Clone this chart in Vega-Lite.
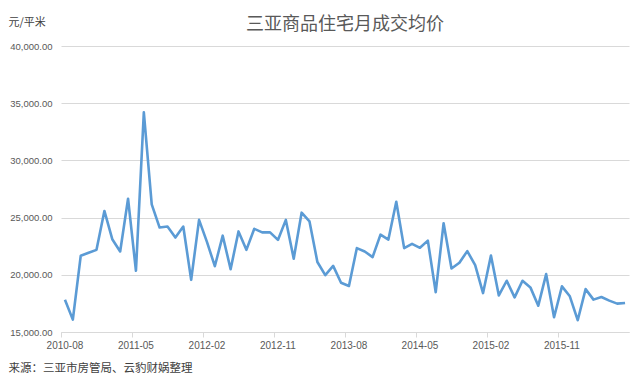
{
  "$schema": "https://vega.github.io/schema/vega-lite/v6.json",
  "autosize": "none",
  "width": 568,
  "height": 286,
  "padding": {"left": 61, "top": 46, "right": 11, "bottom": 53},
  "background": "white",
  "config": {
    "view": {"stroke": null},
    "font": "Noto Sans CJK SC"
  },
  "title": {
    "text": "三亚商品住宅月成交均价",
    "anchor": "middle",
    "fontSize": 18,
    "fontWeight": "normal",
    "color": "#595959",
    "font": "Noto Sans CJK SC",
    "baseline": "middle",
    "offset": -27
  },
  "data": {
    "values": [
      {"month": "2010-08", "price": 17820},
      {"month": "2010-09", "price": 16080},
      {"month": "2010-10", "price": 21660},
      {"month": "2010-11", "price": 21920},
      {"month": "2010-12", "price": 22180},
      {"month": "2011-01", "price": 25580},
      {"month": "2011-02", "price": 23110},
      {"month": "2011-03", "price": 22040},
      {"month": "2011-04", "price": 26650},
      {"month": "2011-05", "price": 20350},
      {"month": "2011-06", "price": 34200},
      {"month": "2011-07", "price": 26160},
      {"month": "2011-08", "price": 24130},
      {"month": "2011-09", "price": 24220},
      {"month": "2011-10", "price": 23260},
      {"month": "2011-11", "price": 24220},
      {"month": "2011-12", "price": 19560},
      {"month": "2012-01", "price": 24800},
      {"month": "2012-02", "price": 22880},
      {"month": "2012-03", "price": 20750},
      {"month": "2012-04", "price": 23420},
      {"month": "2012-05", "price": 20490},
      {"month": "2012-06", "price": 23790},
      {"month": "2012-07", "price": 22180},
      {"month": "2012-08", "price": 24020},
      {"month": "2012-09", "price": 23710},
      {"month": "2012-10", "price": 23710},
      {"month": "2012-11", "price": 23050},
      {"month": "2012-12", "price": 24800},
      {"month": "2013-01", "price": 21410},
      {"month": "2013-02", "price": 25430},
      {"month": "2013-03", "price": 24660},
      {"month": "2013-04", "price": 21120},
      {"month": "2013-05", "price": 19970},
      {"month": "2013-06", "price": 20780},
      {"month": "2013-07", "price": 19310},
      {"month": "2013-08", "price": 19020},
      {"month": "2013-09", "price": 22330},
      {"month": "2013-10", "price": 22040},
      {"month": "2013-11", "price": 21550},
      {"month": "2013-12", "price": 23510},
      {"month": "2014-01", "price": 23080},
      {"month": "2014-02", "price": 26380},
      {"month": "2014-03", "price": 22330},
      {"month": "2014-04", "price": 22700},
      {"month": "2014-05", "price": 22360},
      {"month": "2014-06", "price": 22990},
      {"month": "2014-07", "price": 18480},
      {"month": "2014-08", "price": 24510},
      {"month": "2014-09", "price": 20550},
      {"month": "2014-10", "price": 21060},
      {"month": "2014-11", "price": 22070},
      {"month": "2014-12", "price": 20850},
      {"month": "2015-01", "price": 18400},
      {"month": "2015-02", "price": 21680},
      {"month": "2015-03", "price": 18200},
      {"month": "2015-04", "price": 19480},
      {"month": "2015-05", "price": 18030},
      {"month": "2015-06", "price": 19480},
      {"month": "2015-07", "price": 18900},
      {"month": "2015-08", "price": 17300},
      {"month": "2015-09", "price": 20060},
      {"month": "2015-10", "price": 16290},
      {"month": "2015-11", "price": 18990},
      {"month": "2015-12", "price": 18120},
      {"month": "2016-01", "price": 16030},
      {"month": "2016-02", "price": 18750},
      {"month": "2016-03", "price": 17830},
      {"month": "2016-04", "price": 18060},
      {"month": "2016-05", "price": 17740},
      {"month": "2016-06", "price": 17480},
      {"month": "2016-07", "price": 17540}
    ]
  },
  "mark": {"type": "line", "color": "#5B9BD5", "strokeWidth": 2.6, "strokeJoin": "round"},
  "encoding": {
    "x": {
      "field": "month",
      "type": "ordinal",
      "sort": null,
      "bandPosition": 0.5,
      "scale": {"type": "band", "paddingInner": 0, "paddingOuter": 0},
      "axis": {
        "values": ["2010-08", "2011-05", "2012-02", "2012-11", "2013-08", "2014-05", "2015-02", "2015-11"],
        "bandPosition": 0,
        "labelAngle": 0,
        "labelAlign": "center",
        "labelFont": "Liberation Sans",
        "labelFontSize": 10,
        "labelColor": "#595959",
        "labelPadding": 3,
        "domainColor": "#d9d9d9",
        "domainWidth": 1,
        "tickColor": "#d9d9d9",
        "tickSize": 5,
        "grid": false,
        "title": "来源：三亚市房管局、云豹财娲整理",
        "titleFont": "Noto Sans CJK SC",
        "titleFontSize": 11.5,
        "titleFontWeight": "normal",
        "titleColor": "#404040",
        "titleAnchor": "start",
        "titleAlign": "left",
        "titleBaseline": "middle",
        "titleX": -53,
        "titleY": 36
      }
    },
    "y": {
      "field": "price",
      "type": "quantitative",
      "scale": {"domain": [15000, 40000], "nice": false, "zero": false},
      "axis": {
        "values": [15000, 20000, 25000, 30000, 35000, 40000],
        "format": ",.2f",
        "labelFont": "Liberation Sans",
        "labelFontSize": 9.5,
        "labelColor": "#595959",
        "labelPadding": 9,
        "domain": false,
        "ticks": false,
        "grid": true,
        "gridColor": "#d9d9d9",
        "gridWidth": 1,
        "title": "元/平米",
        "titleFont": "Noto Sans CJK SC",
        "titleFontSize": 11,
        "titleFontWeight": "normal",
        "titleColor": "#404040",
        "titleAngle": 0,
        "titleAlign": "left",
        "titleBaseline": "middle",
        "titleX": -53,
        "titleY": -24
      }
    }
  }
}
